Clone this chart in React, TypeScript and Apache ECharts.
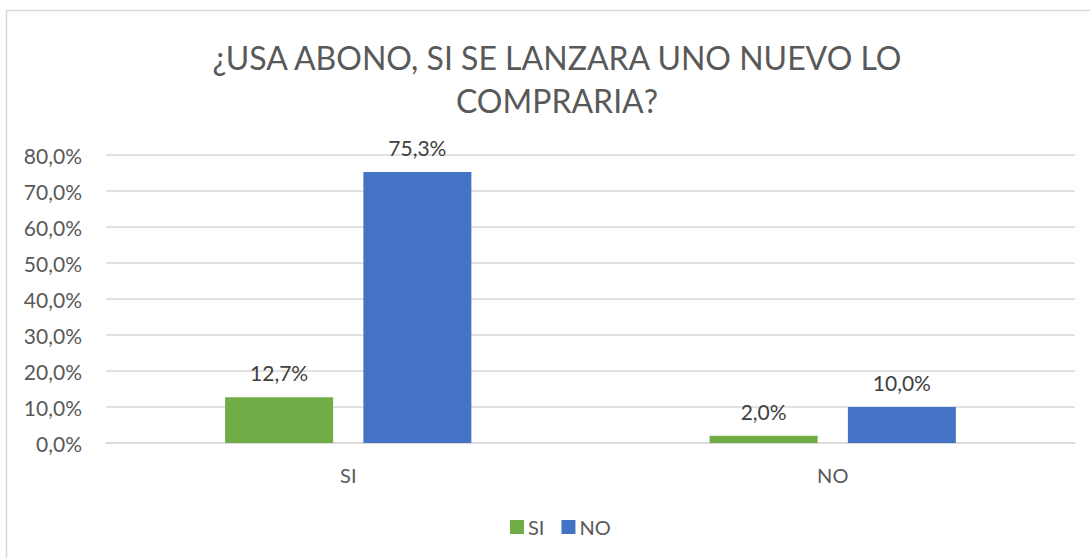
import React, { useEffect, useRef } from "react";
import * as echarts from "echarts";

const categories = ["SI", "NO"];
const seriesNames = ["SI", "NO"];
const siValues = [12.7, 2.0];
const noValues = [75.3, 10.0];
const yTicks = { min: 0, max: 80, interval: 10 };

const fmt = (v: number) => v.toFixed(1).replace(".", ",") + "%";
const FONT = "Lato";

export default function App() {
  const ref = useRef<HTMLDivElement>(null);
  useEffect(() => {
    if (!ref.current) return;
    const chart = echarts.init(ref.current, undefined, { renderer: "svg" });
    const labelCfg = {
      show: true,
      position: "top" as const,
      distance: 14,
      color: "#404040",
      fontFamily: FONT,
      fontSize: 21,
      formatter: (p: any) => fmt(p.value),
    };
    chart.setOption({
      animation: false,
      backgroundColor: "#ffffff",
      textStyle: { fontFamily: FONT },
      graphic: [
        {
          type: "rect",
          shape: { x: 6.5, y: 10.5, width: 1200, height: 700 },
          style: { fill: "none", stroke: "#d9d9d9", lineWidth: 1.5 },
          silent: true,
        },
      ],
      title: {
        text: "¿USA ABONO, SI SE LANZARA UNO NUEVO LO\nCOMPRARIA?",
        left: 552,
        textAlign: "center",
        top: 31,
        padding: 5,
        textStyle: {
          fontFamily: FONT,
          fontSize: 32,
          fontWeight: "normal",
          color: "#595959",
          lineHeight: 43,
        },
      },
      legend: {
        data: seriesNames,
        bottom: 16,
        left: 505,
        icon: "rect",
        itemWidth: 14,
        itemHeight: 14,
        itemGap: 17,
        textStyle: { fontFamily: FONT, fontSize: 20, color: "#595959", padding: [0, 0, 0, -1] },
      },
      grid: { left: 106, right: 15, top: 155, bottom: 115 },
      xAxis: {
        type: "category",
        data: categories,
        axisLine: { show: true, lineStyle: { color: "#d9d9d9", width: 1.5 } },
        axisTick: { show: false },
        axisLabel: { color: "#595959", fontFamily: FONT, fontSize: 20, margin: 22 },
      },
      yAxis: {
        type: "value",
        min: yTicks.min,
        max: yTicks.max,
        interval: yTicks.interval,
        axisLine: { show: false },
        axisTick: { show: false },
        splitLine: { lineStyle: { color: "#d9d9d9", width: 1.5 } },
        axisLabel: {
          color: "#595959",
          fontFamily: FONT,
          fontSize: 21,
          margin: 24,
          formatter: (v: number) => fmt(v),
        },
      },
      series: [
        {
          name: seriesNames[0],
          type: "bar",
          data: siValues,
          barWidth: 108,
          barGap: "28%",
          itemStyle: { color: "#70AD47" },
          label: labelCfg,
        },
        {
          name: seriesNames[1],
          type: "bar",
          data: noValues,
          barWidth: 108,
          itemStyle: { color: "#4472C4" },
          label: labelCfg,
        },
      ],
    });
    return () => chart.dispose();
  }, []);
  return (
    <div
      ref={ref}
      style={{ position: "fixed", left: 0, top: 0, width: 1090, height: 558 }}
    />
  );
}
